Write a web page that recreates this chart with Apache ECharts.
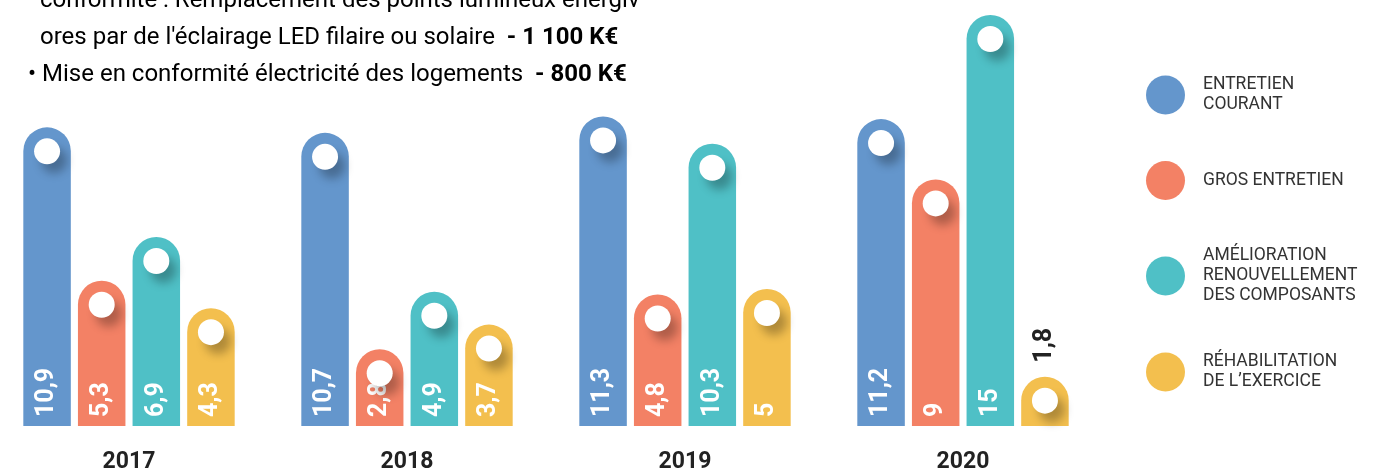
<!DOCTYPE html>
<html>
<head>
<meta charset="utf-8">
<script src="https://cdn.jsdelivr.net/npm/echarts@6/dist/echarts.min.js"></script>
<style>
html,body{margin:0;padding:0;background:#fff;}
#chart{width:1393px;height:475px;}
</style>
</head>
<body>
<div id="chart"></div>
<script>
// ---- data ----
const years = ['2017', '2018', '2019', '2020'];
const seriesNames = ['ENTRETIEN\nCOURANT', 'GROS ENTRETIEN', 'AMÉLIORATION\nRENOUVELLEMENT\nDES COMPOSANTS', 'RÉHABILITATION\nDE L\u2019EXERCICE'];
const entretienCourant = [10.9, 10.7, 11.3, 11.2];
const grosEntretien = [5.3, 2.8, 4.8, 9];
const amelioration = [6.9, 4.9, 10.3, 15];
const rehabilitation = [4.3, 3.7, 5, 1.8];
const colors = ['#6496CC', '#F38165', '#4FC0C6', '#F3BF4E'];
const textLines = [
  'conformité : Remplacement des points lumineux énergiv',
  "ores par de l'éclairage LED filaire ou solaire  ",
  '\u2022 Mise en conformité électricité des logements  '
];
const textAmounts = ['', '- 1 100 K€', '- 800 K€'];

const allValues = [entretienCourant, grosEntretien, amelioration, rehabilitation];

const chart = echarts.init(document.getElementById('chart'));
const BW = 47.5, GAP = '15%';
const fmt = v => String(v).replace('.', ',');

const series = [];
allValues.forEach((vals, i) => {
  series.push({
    name: seriesNames[i],
    type: 'bar',
    barWidth: BW,
    barGap: GAP,
    clip: false,
    itemStyle: { color: colors[i], borderRadius: [BW / 2, BW / 2, 0, 0] },
    label: {
      show: true,
      position: 'insideBottom',
      rotate: 90,
      align: 'left',
      verticalAlign: 'middle',
      distance: 9,
      color: '#fff',
      fontFamily: 'Roboto',
      fontWeight: 'bold',
      fontSize: 25,
      formatter: p => fmt(p.value)
    },
    data: vals.map(v => v < 2 ? {
      value: v,
      label: { position: 'top', color: '#222', distance: 14 }
    } : v),
    z: 2
  });
});
allValues.forEach((vals, i) => {
  series.push({
    name: seriesNames[i],
    type: 'pictorialBar',
    barWidth: BW,
    barGap: GAP,
    clip: false,
    symbol: 'circle',
    symbolSize: 26,
    symbolPosition: 'end',
    symbolOffset: [0, 11],
    itemStyle: {
      color: '#fff',
      shadowColor: 'rgba(0,0,0,0.28)',
      shadowBlur: 10,
      shadowOffsetX: 7,
      shadowOffsetY: 9
    },
    data: vals.slice(),
    z: 5,
    silent: true
  });
});

const graphics = textLines.map((t, i) => ({
  type: 'text',
  left: i === 2 ? 28 : 40,
  top: -11 + i * 37,
  style: {
    text: '{n|' + t + '}' + (textAmounts[i] ? '{b|' + textAmounts[i] + '}' : ''),
    rich: {
      n: { fontFamily: 'Roboto', fontSize: 24, color: '#333' },
      b: { fontFamily: 'Roboto', fontSize: 24, fontWeight: 'bold', color: '#333' }
    }
  }
}));

chart.setOption({
  animation: false,
  backgroundColor: '#fff',
  grid: { left: 129, right: 430, top: 15, bottom: 49 },
  xAxis: {
    type: 'category',
    data: years,
    boundaryGap: false,
    axisLine: { show: false },
    axisTick: { show: false },
    axisLabel: {
      margin: 25,
      fontFamily: 'Roboto',
      fontWeight: 'bold',
      fontSize: 23,
      color: '#222'
    }
  },
  yAxis: {
    type: 'value',
    min: 0,
    max: 15,
    show: false,
    splitLine: { show: false }
  },
  legend: {
    orient: 'vertical',
    left: 1141,
    top: 70,
    itemGap: 46,
    itemWidth: 39,
    itemHeight: 39,
    icon: 'circle',
    data: seriesNames,
    textStyle: {
      fontFamily: 'Roboto',
      fontSize: 17.5,
      lineHeight: 20,
      color: '#333',
      padding: [0, 0, 0, 13]
    }
  },
  graphic: graphics,
  series: series
});
</script>
</body>
</html>
